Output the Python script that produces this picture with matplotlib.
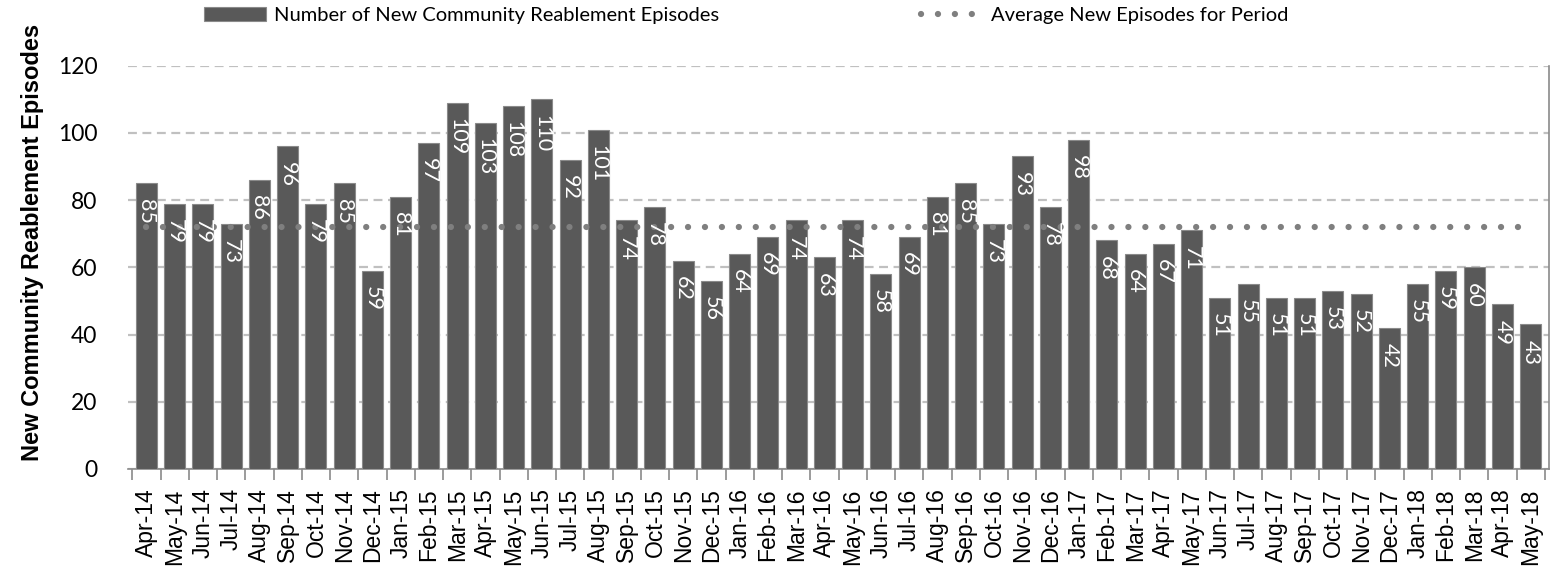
import matplotlib.pyplot as plt
import numpy as np

months = ["Apr-14", "May-14", "Jun-14", "Jul-14", "Aug-14", "Sep-14", "Oct-14", "Nov-14", "Dec-14",
          "Jan-15", "Feb-15", "Mar-15", "Apr-15", "May-15", "Jun-15", "Jul-15", "Aug-15", "Sep-15",
          "Oct-15", "Nov-15", "Dec-15", "Jan-16", "Feb-16", "Mar-16", "Apr-16", "May-16", "Jun-16",
          "Jul-16", "Aug-16", "Sep-16", "Oct-16", "Nov-16", "Dec-16", "Jan-17", "Feb-17", "Mar-17",
          "Apr-17", "May-17", "Jun-17", "Jul-17", "Aug-17", "Sep-17", "Oct-17", "Nov-17", "Dec-17",
          "Jan-18", "Feb-18", "Mar-18", "Apr-18", "May-18"]
episodes = [85, 79, 79, 73, 86, 96, 79, 85, 59,
            81, 97, 109, 103, 108, 110, 92, 101, 74,
            78, 62, 56, 64, 69, 74, 63, 74, 58,
            69, 81, 85, 73, 93, 78, 98, 68, 64,
            67, 71, 51, 55, 51, 51, 53, 52, 42,
            55, 59, 60, 49, 43]
average = 72

x = np.arange(len(months))

fig = plt.figure(figsize=(15.62, 5.67), dpi=100)
ax = fig.add_axes([0.082, 0.173, 0.9097, 0.711])

bars = ax.bar(x, episodes, width=0.74, color="#595959", edgecolor="#8a8a8a", linewidth=0.8,
              zorder=3, label="Number of New Community Reablement Episodes")
avg_line, = ax.plot(x, [average] * len(x), color="#7f7f7f", linewidth=4.5,
                    linestyle=(0, (0.01, 2.7)), dash_capstyle="round", zorder=4,
                    label="Average New Episodes for Period")

# value labels, rotated, just inside the top of each bar
for xi, v in zip(x, episodes):
    ax.annotate(str(v), (xi, v), xytext=(0, -11), textcoords="offset points",
                rotation=270, ha="center", va="top", color="white",
                fontsize=15.5, family="Lato", zorder=5)

ax.set_xlim(-0.65, len(x) - 0.35)
ax.set_ylim(0, 120)
ax.set_yticks(range(0, 121, 20))
ax.yaxis.grid(True, color="#c0c0c0", linestyle=(0, (4, 2.5)), linewidth=1.6, zorder=0)
ax.tick_params(axis="y", length=0, labelsize=16.5, pad=22)
for t in ax.get_yticklabels():
    t.set_family("Lato")

ax.set_xticks(x)
ax.set_xticklabels(months, rotation=90, fontsize=16.5, family="Liberation Sans")
ax.set_xticks(np.arange(-0.5, len(x), 1), minor=True)
ax.tick_params(axis="x", which="major", length=0, pad=14)
ax.tick_params(axis="x", which="minor", length=8, color="#8a8a8a", width=1.2)

for s in ["top", "left"]:
    ax.spines[s].set_visible(False)
ax.spines["bottom"].set_color("#8a8a8a")
ax.spines["bottom"].set_linewidth(1.2)
ax.spines["right"].set_color("#8a8a8a")
ax.spines["right"].set_linewidth(1.2)

fig.text(33 / 1562, 1 - 242 / 567, "New Community Reablement Episodes", rotation=90,
         ha="center", va="center", fontsize=17, fontweight="bold", family="Liberation Sans")

ax.legend([bars, avg_line],
          ["Number of New Community Reablement Episodes", "Average New Episodes for Period"],
          loc="center", bbox_to_anchor=(0.435, 1.124), ncol=2, frameon=False,
          prop={"family": "Lato", "size": 14.5}, handlelength=3.1, columnspacing=10,
          handletextpad=0.4)

fig.savefig("out.png", dpi=100)
